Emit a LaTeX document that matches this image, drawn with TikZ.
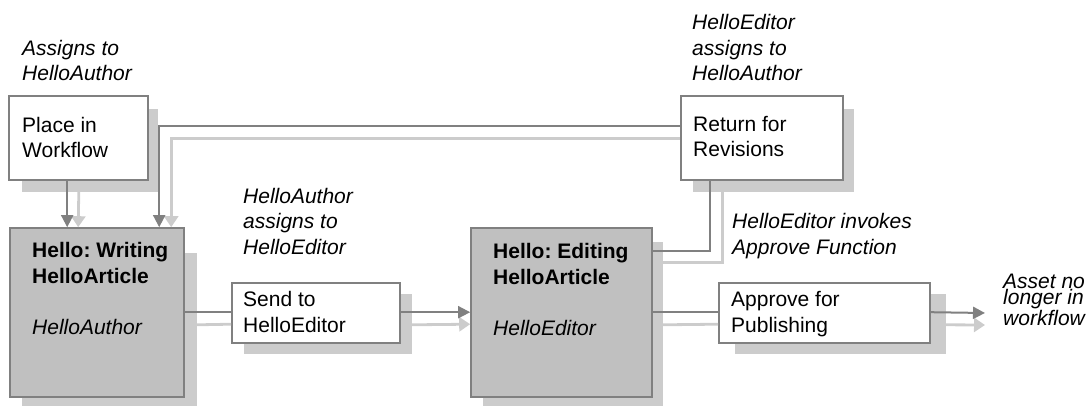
\documentclass[tikz,border=0pt]{standalone}
\usepackage{fontspec}
\setmainfont{Liberation Sans}
\usetikzlibrary{arrows.meta,calc,fit}
\pgfdeclarelayer{bg}
\pgfsetlayers{bg,main}
\definecolor{lnDark}{HTML}{808080}
\definecolor{lnLight}{HTML}{CCCCCC}
\definecolor{boxGray}{HTML}{C0C0C0}
\definecolor{shadowGray}{HTML}{CCCCCC}
\frenchspacing
\begin{document}
\begin{tikzpicture}[x=1pt,y=-1pt,
 wbox/.style={draw=lnDark, line width=1.6pt, fill=white, inner sep=0pt},
 gbox/.style={wbox, fill=boxGray},
 shbox/.style={fill=shadowGray, draw=none, inner sep=0pt},
 txt/.style={anchor=base west, inner sep=0pt, align=left, font=\fontsize{21}{25.5}\selectfont\frenchspacing},
 itxt/.style={txt, font=\fontsize{21}{25.5}\selectfont\itshape},
 dk/.style={draw=lnDark, line width=2pt},
 lt/.style={draw=lnLight, line width=2.8pt},
 dkarrow/.style={dk, -{Triangle[length=12pt,width=12pt]}},
 ltarrow/.style={lt, -{Triangle[length=11pt,width=14pt]}},
]
\useasboundingbox (0,0) rectangle (1091,406);

% boxes
\node[wbox, fit={(9,96)(148,180)}] (p) {};
\node[wbox, fit={(681,96)(843,180)}] (r) {};
\node[gbox, fit={(10,228)(184,397)}] (w) {};
\node[wbox, fit={(232,283)(400,343)}] (s) {};
\node[gbox, fit={(471,228)(652,397)}] (e) {};
\node[wbox, fit={(719,283)(930,343)}] (a) {};

% shadows
\begin{pgfonlayer}{bg}
\node[shbox, fit={(22,109)(158,192)}] (ps) {};
\node[shbox, fit={(693,109)(854,192)}] (rs) {};
\node[shbox, fit={(22,253)(197,406)}] (ws) {};
\node[shbox, fit={(244,294)(412,354)}] (ss) {};
\node[shbox, fit={(483,242)(663,406)}] (es) {};
\node[shbox, fit={(735,294)(946,354)}] (as) {};
\end{pgfonlayer}

% texts (anchored at the baseline of the last line)
\node[txt] (tp) at (22,158) {Place in\\Workflow};
\node[txt] (tr) at (693,157) {Return for\\Revisions};
\node[txt] (tw) at (32,334) {\textbf{Hello: Writing}\\\textbf{HelloArticle}\\[25.5pt]\textit{HelloAuthor}};
\node[txt] (ts) at (243,332) {Send to\\HelloEditor};
\node[txt] (te) at (493,335) {\textbf{Hello: Editing}\\\textbf{HelloArticle}\\[25.5pt]\textit{HelloEditor}};
\node[txt] (ta) at (731,332) {Approve for\\Publishing};

\node[itxt] (l1) at (22,81) {Assigns to\\HelloAuthor};
\node[itxt] (l2) at (692,81) {HelloEditor\\assigns to\\HelloAuthor};
\node[itxt] (l3) at (243,254) {HelloAuthor\\assigns to\\HelloEditor};
\node[itxt] (l4) at (732,254) {HelloEditor invokes\\Approve Function};
\node[txt, font=\fontsize{21}{14.5}\selectfont\itshape] (l5) at (1003,325) {Asset no\\longer in\\workflow};

% connectors
\draw[lt] ($(ws.north east)+(0,72)$) -- ($(s.north west)+(0,42)$);
\draw[ltarrow] ($(ss.north east)+(0,31)$) -- ($(e.north west)+(0,97)$);
\draw[lt] ($(es.north east)+(0,83)$) -- ($(a.north west)+(0,42)$);
\coordinate (o1) at (985,313);
\coordinate (o2) at (985,325);
\draw[ltarrow] ($(as.north east)+(0,31)$) -- (o2);
\draw[lt] ($(es.north east)+(0,21)$) -| ($(rs.south west)+(30,0)$);
\draw[ltarrow] ($(ps.south west)+(57,0)$) -- ($(w.north west)+(69,0)$);
\draw[ltarrow] ($(r.north west)+(0,43)$) -| ($(w.north west)+(162,0)$);

\draw[dkarrow] ($(p.south west)+(59,0)$) -- ($(w.north west)+(58,0)$);
\draw[dkarrow] ($(r.north west)+(0,31)$) -| ($(w.north west)+(150,0)$);
\draw[dk] ($(w.north east)+(0,85)$) -- ($(s.north west)+(0,30)$);
\draw[dkarrow] ($(s.north east)+(0,30)$) -- ($(e.north west)+(0,85)$);
\draw[dk] ($(e.north east)+(0,85)$) -- ($(a.north west)+(0,30)$);
\draw[dkarrow] ($(a.north east)+(0,30)$) -- (o1);
\draw[dk] ($(e.north east)+(0,24)$) -| ($(r.south west)+(30,0)$);
\end{tikzpicture}
\end{document}
